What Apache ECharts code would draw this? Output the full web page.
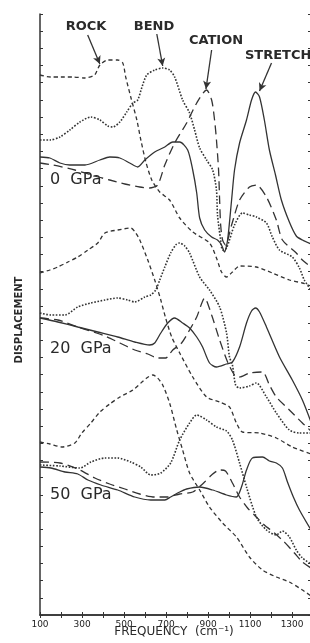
<!DOCTYPE html>
<html>
<head>
<meta charset="utf-8">
<script src="https://cdn.jsdelivr.net/npm/echarts@6/dist/echarts.min.js"></script>
<style>
  html, body { margin: 0; padding: 0; background: #fff; }
  #chart { width: 310px; height: 643px; }
</style>
</head>
<body>
<div id="chart"></div>
<script>
  // frequency (cm-1), displacement (arbitrary, stacked by pressure)
  const freqTicks = [100, 300, 500, 700, 900, 1100, 1300]
  const modeNames = ['ROCK', 'BEND', 'CATION', 'STRETCH']
  const pressureLabels = ['0  GPa', '20  GPa', '50  GPa']

  // 0 GPa
  const rock0 = [[100, 54.0], [150, 53.8], [200, 53.8], [260, 53.8], [314, 53.7], [360, 54.0], [385, 55.0], [423, 55.5], [470, 55.5], [494, 55.2], [508, 53.8], [532, 51.8], [561, 49.5], [580, 47.5], [604, 45.3], [632, 43.5], [670, 42.3], [717, 41.5], [765, 39.7], [827, 38.3], [907, 37.2], [940, 35.7], [964, 34.3], [988, 33.8], [1016, 34.3], [1050, 34.9], [1130, 34.8], [1206, 34.2], [1287, 33.5], [1349, 33.2], [1390, 32.9]]
  const bend0 = [[100, 47.5], [147, 47.5], [195, 47.8], [242, 48.5], [290, 49.3], [342, 49.8], [385, 49.5], [423, 48.9], [447, 48.8], [480, 49.3], [513, 50.3], [542, 51.2], [565, 51.5], [584, 52.7], [608, 54.0], [646, 54.5], [684, 54.7], [717, 54.5], [741, 53.8], [779, 51.5], [812, 50.2], [836, 48.5], [860, 46.7], [893, 45.5], [922, 44.5], [940, 42.5], [945, 40.0], [960, 37.5], [969, 36.5], [988, 36.7], [1026, 39.0], [1064, 40.2], [1097, 40.0], [1130, 39.8], [1178, 39.2], [1206, 37.8], [1240, 36.5], [1301, 35.8], [1335, 34.7], [1358, 33.5], [1390, 32.5]]
  const cation0 = [[100, 45.2], [162, 45.0], [266, 44.5], [361, 43.9], [432, 43.5], [504, 43.1], [575, 42.8], [622, 42.7], [660, 43.0], [694, 45.0], [741, 47.2], [798, 49.2], [846, 51.2], [893, 52.5], [917, 51.5], [931, 49.5], [940, 47.5], [950, 44.5], [955, 41.5], [960, 39.0], [969, 37.5], [983, 37.0], [1012, 39.0], [1050, 41.5], [1097, 42.8], [1130, 43.0], [1178, 41.8], [1225, 39.5], [1254, 37.5], [1320, 36.2], [1349, 35.5], [1390, 34.8]]
  const stretch0 = [[100, 45.8], [147, 45.7], [195, 45.2], [242, 45.0], [314, 45.0], [385, 45.5], [432, 45.8], [480, 45.7], [527, 45.2], [565, 44.8], [599, 45.5], [646, 46.3], [694, 46.8], [732, 47.3], [765, 47.3], [803, 46.5], [827, 44.5], [846, 42.2], [860, 39.7], [884, 38.5], [917, 37.8], [945, 37.5], [964, 37.0], [978, 36.3], [993, 37.5], [1012, 41.5], [1026, 44.5], [1050, 47.2], [1083, 49.5], [1107, 51.5], [1126, 52.3], [1145, 51.8], [1168, 49.5], [1192, 46.5], [1221, 44.0], [1249, 41.5], [1287, 39.3], [1320, 37.9], [1349, 37.5], [1390, 37.1]]

  // 20 GPa
  const rock20 = [[100, 34.2], [147, 34.5], [185, 34.8], [233, 35.3], [280, 35.8], [328, 36.5], [375, 37.2], [409, 38.2], [470, 38.5], [532, 38.7], [556, 38.2], [575, 37.5], [613, 35.5], [646, 33.5], [675, 31.5], [698, 29.7], [727, 27.8], [765, 26.2], [827, 23.8], [893, 21.8], [955, 21.3], [1002, 20.8], [1035, 19.2], [1064, 18.3], [1145, 18.2], [1225, 17.7], [1301, 16.8], [1390, 16.1]]
  const bend20 = [[100, 30.2], [152, 30.0], [219, 30.0], [280, 30.8], [342, 31.2], [409, 31.5], [470, 31.7], [518, 31.5], [551, 31.3], [599, 31.8], [627, 32.0], [651, 32.5], [670, 33.5], [694, 34.8], [722, 36.2], [746, 37.0], [765, 37.2], [789, 36.9], [812, 36.2], [860, 33.8], [907, 32.5], [955, 30.8], [988, 28.2], [1002, 25.8], [1016, 25.0], [1031, 23.0], [1050, 22.7], [1097, 22.9], [1130, 23.2], [1178, 21.8], [1225, 20.2], [1287, 18.5], [1335, 18.2], [1390, 18.2]]
  const cation20 = [[100, 29.7], [185, 29.5], [280, 28.8], [409, 27.9], [480, 27.2], [551, 26.5], [613, 26.1], [660, 25.7], [698, 25.7], [732, 26.5], [774, 27.2], [812, 28.5], [846, 29.8], [884, 31.7], [917, 30.0], [955, 27.5], [993, 25.3], [1026, 24.0], [1050, 23.8], [1097, 24.2], [1159, 24.3], [1192, 23.0], [1225, 21.8], [1287, 20.5], [1349, 19.2], [1390, 18.4]]
  const stretch20 = [[100, 29.7], [185, 29.3], [280, 28.8], [375, 28.3], [470, 27.8], [551, 27.3], [622, 27.0], [646, 27.2], [675, 28.2], [708, 29.2], [741, 29.7], [779, 29.2], [812, 28.7], [846, 27.8], [874, 26.8], [907, 25.2], [940, 24.8], [988, 25.1], [1016, 25.3], [1050, 26.8], [1083, 29.2], [1107, 30.4], [1126, 30.7], [1145, 30.3], [1178, 28.8], [1240, 25.8], [1301, 23.5], [1349, 21.5], [1390, 19.3]]

  // 50 GPa
  const rock50 = [[100, 17.3], [147, 17.1], [204, 16.8], [266, 17.2], [299, 18.2], [342, 19.2], [385, 20.3], [432, 21.1], [480, 21.8], [542, 22.5], [608, 23.7], [637, 24.0], [660, 23.7], [684, 23.0], [717, 21.2], [751, 18.5], [779, 16.5], [812, 14.2], [860, 12.5], [907, 10.8], [969, 9.2], [1035, 7.8], [1097, 5.8], [1159, 4.5], [1225, 3.8], [1287, 3.3], [1349, 2.5], [1390, 1.9]]
  const bend50 = [[100, 15.0], [195, 14.9], [290, 14.7], [342, 15.3], [409, 15.7], [470, 15.7], [532, 15.3], [580, 14.8], [627, 14.0], [675, 14.2], [722, 15.2], [765, 17.5], [812, 19.2], [846, 20.0], [893, 19.5], [940, 18.8], [988, 18.4], [1016, 17.5], [1050, 15.2], [1083, 12.8], [1130, 9.8], [1178, 8.5], [1225, 8.0], [1254, 8.4], [1287, 7.8], [1320, 6.5], [1349, 5.7], [1390, 5.1]]
  const cation50 = [[100, 15.3], [195, 15.2], [290, 14.5], [361, 13.7], [432, 13.1], [504, 12.6], [575, 12.1], [646, 11.8], [703, 11.8], [765, 12.1], [827, 12.3], [874, 13.1], [917, 14.0], [955, 14.5], [983, 14.4], [1016, 13.2], [1050, 11.8], [1088, 10.7], [1130, 9.8], [1168, 9.0], [1216, 8.2], [1263, 7.3], [1311, 6.2], [1349, 5.3], [1390, 4.7]]
  const stretch50 = [[100, 14.8], [152, 14.7], [219, 14.3], [280, 14.1], [328, 13.5], [390, 13.0], [470, 12.5], [551, 11.8], [627, 11.5], [694, 11.5], [722, 11.8], [765, 12.3], [798, 12.6], [860, 12.8], [922, 12.5], [988, 12.0], [1035, 11.8], [1059, 12.8], [1083, 14.5], [1111, 15.7], [1159, 15.8], [1192, 15.4], [1225, 15.2], [1254, 14.7], [1278, 13.3], [1306, 11.8], [1335, 10.5], [1390, 8.5]]

  const ink = '#333'
  const dashes = { ROCK: [4, 3], BEND: 'dotted', CATION: [9, 5], STRETCH: 'solid' }

  // arrow from label to peak (data coords)
  const arrows = {
    ROCK: [[327, 58.0], [385, 55.1]],
    BEND: [[656, 58.1], [684, 54.9]],
    CATION: [[917, 56.5], [890, 52.6]],
    STRETCH: [[1202, 55.2], [1145, 52.4]]
  }

  const groups = [
    { ROCK: rock0, BEND: bend0, CATION: cation0, STRETCH: stretch0 },
    { ROCK: rock20, BEND: bend20, CATION: cation20, STRETCH: stretch20 },
    { ROCK: rock50, BEND: bend50, CATION: cation50, STRETCH: stretch50 }
  ]

  const series = []
  groups.forEach((g, gi) => {
    modeNames.forEach(mode => {
      const s = {
        name: mode + ' ' + pressureLabels[gi],
        type: 'line',
        data: g[mode],
        symbol: 'none',
        smooth: 0.25,
        animation: false,
        lineStyle: { color: ink, width: mode === 'BEND' ? 1.6 : 1.3, type: dashes[mode] }
      }
      if (gi === 0) {
        s.markLine = {
          silent: true,
          animation: false,
          symbol: ['none', 'arrow'],
          symbolSize: [6, 8],
          label: { show: false },
          lineStyle: { color: ink, width: 1.3, type: 'solid' },
          data: [[{ coord: arrows[mode][0] }, { coord: arrows[mode][1] }]]
        }
      }
      series.push(s)
    })
  })

  const axisLine = { show: true, lineStyle: { color: ink, width: 1.5 } }
  const tick = { show: true, inside: true, length: 3, lineStyle: { color: ink, width: 1 } }

  // plain label, left aligned unless align given
  const label = (text, x, y, font, align) => ({
    type: 'text',
    x: x,
    y: y,
    style: { text: text, font: font, fill: '#2a2a2a', textAlign: align || 'left', textVerticalAlign: 'middle' }
  })

  const option = {
    backgroundColor: '#fff',
    grid: { left: 40, right: -1, top: 14, bottom: 28, containLabel: false, outerBoundsMode: 'none' },
    xAxis: [
      {
        type: 'value', min: 100, max: 1390, interval: 100, position: 'bottom',
        axisLine: axisLine, axisTick: tick, splitLine: { show: false },
        axisLabel: {
          margin: 5, fontSize: 9, color: '#222', fontFamily: 'DejaVu Sans',
          formatter: v => freqTicks.includes(Math.round(v)) ? String(Math.round(v)) : ''
        }
      },
      {
        type: 'value', min: 100, max: 1390, interval: 100, position: 'top',
        axisLine: axisLine, axisTick: tick, axisLabel: { show: false }, splitLine: { show: false }
      }
    ],
    yAxis: [
      {
        type: 'value', min: 0, max: 60.1, interval: 1.717, position: 'left',
        axisLine: axisLine, axisTick: tick, axisLabel: { show: false }, splitLine: { show: false }
      },
      {
        type: 'value', min: 0, max: 60.1, interval: 1.717, position: 'right',
        axisLine: axisLine, axisTick: tick, axisLabel: { show: false }, splitLine: { show: false }
      }
    ],
    graphic: [
      label(modeNames[0], 86, 27, 'bold 13px "DejaVu Sans"', 'center'),
      label(modeNames[1], 154, 27, 'bold 13px "DejaVu Sans"', 'center'),
      label(modeNames[2], 216, 41, 'bold 13px "DejaVu Sans"', 'center'),
      label(modeNames[3], 245, 56, 'bold 13px "DejaVu Sans"'),
      label(pressureLabels[0], 50, 180, '16px "DejaVu Sans"'),
      label(pressureLabels[1], 50, 349, '16px "DejaVu Sans"'),
      label(pressureLabels[2], 50, 495, '16px "DejaVu Sans"'),
      {
        type: 'text', x: 19, y: 320, rotation: Math.PI / 2,
        style: { text: 'DISPLACEMENT', font: 'bold 10px "DejaVu Sans"', fill: '#2a2a2a', textAlign: 'center', textVerticalAlign: 'middle' }
      },
      label('FREQUENCY  (cm⁻¹)', 174, 632, '12px "DejaVu Sans"', 'center')
    ],
    series: series
  }

  const chart = echarts.init(document.getElementById('chart'))
  chart.setOption(option, true)
  window.addEventListener('resize', () => {
    chart.resize()
  })
</script>
</body>
</html>
